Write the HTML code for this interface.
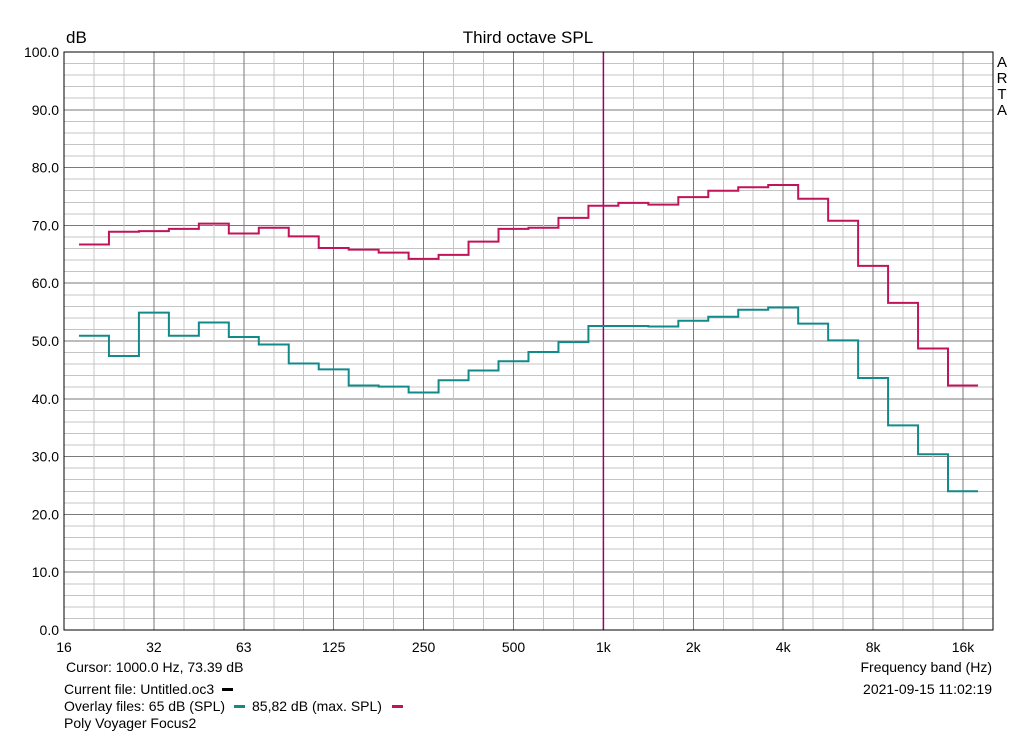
<!DOCTYPE html>
<html><head><meta charset="utf-8"><style>
body{margin:0;background:#fff;width:1024px;height:735px;overflow:hidden;font-family:"Liberation Sans",sans-serif;}
svg text{font-family:"Liberation Sans",sans-serif;}
</style></head><body>
<svg id="c" width="1024" height="735" xmlns="http://www.w3.org/2000/svg"></svg>
<script>
const bands=["20","25","31.5","40","50","63","80","100","125","160","200","250","315","400","500","630","800","1k","1.25k","1.6k","2k","2.5k","3.15k","4k","5k","6.3k","8k","10k","12.5k","16k"];
const maxSpl=[66.7,68.9,69.0,69.4,70.3,68.6,69.6,68.1,66.1,65.8,65.3,64.2,64.9,67.2,69.4,69.6,71.3,73.4,73.9,73.6,74.9,76.0,76.6,77.0,74.6,70.8,63.0,56.6,48.7,42.3];
const spl65=[50.9,47.4,54.9,50.9,53.2,50.7,49.4,46.1,45.1,42.3,42.1,41.1,43.2,44.9,46.5,48.1,49.8,52.6,52.6,52.5,53.5,54.2,55.4,55.8,53.0,50.1,43.6,35.4,30.4,24.0];
const xTicks=["16","32","63","125","250","500","1k","2k","4k","8k","16k"];
const yTicks=[0,10,20,30,40,50,60,70,80,90,100];
const svg=document.getElementById('c');
const NS="http://www.w3.org/2000/svg";
const L=64,R=993,T=52,B=630,OCT=89.9;
const y=v=>B-(v/100)*(B-T);
const xb=i=>L+OCT/3*(i+1);
function mk(tag,a,p){const e=document.createElementNS(NS,tag);for(const k in a)e.setAttribute(k,a[k]);(p||svg).appendChild(e);return e;}
for(let v=0;v<=100;v+=2){const l=mk('line',{x1:L,x2:R,y1:y(v),y2:y(v),stroke:v%10?'#c4c4c4':'#7a7a7a','stroke-width':1,'shape-rendering':'crispEdges'});
}
for(let k=1;k<=31;k++){const x=L+OCT/3*k;if(x>=R)break;const major=k%3==0;if(k==18)continue;
const l=mk('line',{x1:x,x2:x,y1:T,y2:B,stroke:major?'#7a7a7a':'#c4c4c4','stroke-width':1,'shape-rendering':'crispEdges'});
}
const cl=mk('line',{x1:L+OCT*6,x2:L+OCT*6,y1:T,y2:B,stroke:'#990066','stroke-width':1.5});

const fr=mk('rect',{x:L,y:T,width:R-L,height:B-T,fill:'none',stroke:'#000','stroke-width':1,'shape-rendering':'crispEdges'});

yTicks.forEach(v=>{const t=mk('text',{x:L-5,y:y(v)+5,'text-anchor':'end','font-size':14});t.textContent=v.toFixed(1);
});
xTicks.forEach((s,i)=>{const t=mk('text',{x:L+OCT*i,y:B+22,'text-anchor':'middle','font-size':14});t.textContent=s;
});
function step(vals,color,name){let d='';vals.forEach((v,i)=>{const x0=xb(i)-OCT/6,x1=xb(i)+OCT/6;d+=(i?'L':'M')+x0+' '+y(v)+'L'+x1+' '+y(v);});
const p=mk('path',{d:d,fill:'none',stroke:color,'stroke-width':2});}
step(maxSpl,'#c0145a','series-max-spl');
step(spl65,'#138a8a','series-65db');
function txt(s,x,yy,sz,anchor,name){const t=mk('text',{x:x,y:yy,'font-size':sz,'text-anchor':anchor||'start'});t.textContent=s;
return t;}
txt('Third octave SPL',528,43,17,'middle','chart-title');
txt('dB',66,43,17,'start','y-axis-unit');
['A','R','T','A'].forEach((c,i)=>txt(c,1002,67+i*16,15,'middle','arta-logo'));
txt('Cursor:  1000.0 Hz, 73.39 dB',66,672,14,'start','cursor-readout');
txt('Frequency band (Hz)',992,672,14,'end','x-axis-title');
txt('Current file: Untitled.oc3',64,694,14,'start','current-file');
mk('rect',{x:222,y:688,width:11,height:3,fill:'#000'});
txt('2021-09-15  11:02:19',992,694,14,'end','timestamp');
txt('Overlay files: 65 dB (SPL)',64,711,14,'start','legend-65db');
mk('rect',{x:234,y:705,width:11,height:3,fill:'#138a8a'});
txt('85,82 dB (max. SPL)',252,711,14,'start','legend-max-spl');
mk('rect',{x:392,y:705,width:11,height:3,fill:'#c0145a'});
txt('Poly Voyager Focus2',64,728,14,'start','device-name');
</script>
</body></html>
